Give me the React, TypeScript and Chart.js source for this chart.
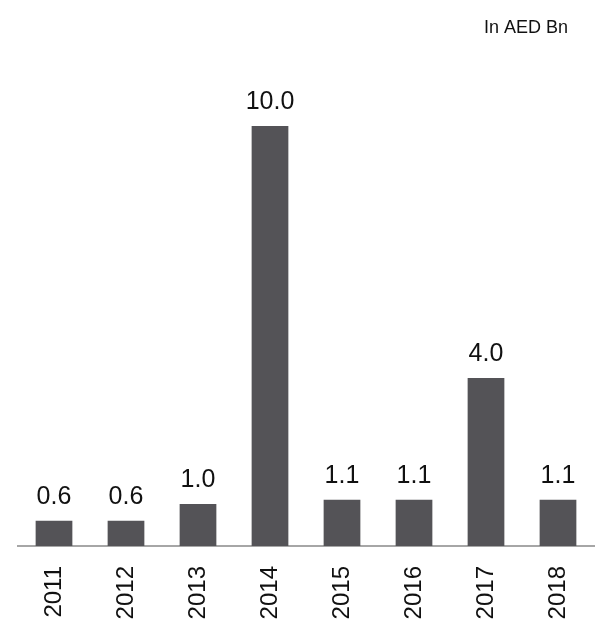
import React, { useEffect, useRef } from "react";
import { Chart, registerables } from "chart.js";

Chart.register(...registerables);

const years = ["2011", "2012", "2013", "2014", "2015", "2016", "2017", "2018"];
const values = [0.6, 0.6, 1.0, 10.0, 1.1, 1.1, 4.0, 1.1];
const unitLabel = "In AED Bn";

const FONT = "'Liberation Sans', Arial, sans-serif";

const labelPlugin = {
  id: "valueLabels",
  afterDatasetsDraw(chart: any) {
    const ctx = chart.ctx;
    const meta = chart.getDatasetMeta(0);
    ctx.save();
    ctx.font = `25px ${FONT}`;
    ctx.fillStyle = "#111111";
    ctx.textAlign = "center";
    ctx.textBaseline = "alphabetic";
    meta.data.forEach((bar: any, i: number) => {
      ctx.fillText(values[i].toFixed(1), bar.x, bar.y - 17);
    });
    ctx.font = `18px ${FONT}`;
    ctx.textAlign = "right";
    ctx.fillText(unitLabel, 568, 33);
    ctx.restore();
  },
};

export default function App() {
  const ref = useRef<HTMLCanvasElement>(null);
  useEffect(() => {
    const chart = new Chart(ref.current!, {
      type: "bar",
      data: {
        labels: years,
        datasets: [
          {
            data: values,
            backgroundColor: "#545357",
            categoryPercentage: 1,
            barPercentage: 0.51,
          },
        ],
      },
      options: {
        responsive: false,
        animation: false,
        layout: { padding: { left: 18, right: 17, top: 126, bottom: 0 } },
        plugins: { legend: { display: false }, tooltip: { enabled: false } },
        scales: {
          y: { display: false, min: 0, max: 10 },
          x: {
            grid: { display: false, drawTicks: false },
            border: { color: "#a6a6a6", width: 2 },
            afterFit: (scale: any) => {
              scale.height = 80;
            },
            ticks: {
              minRotation: 90,
              maxRotation: 90,
              padding: 20,
              color: "#111111",
              font: { family: FONT, size: 24 },
            },
          },
        },
      },
      plugins: [labelPlugin],
    });
    return () => chart.destroy();
  }, []);
  return (
    <div style={{ position: "fixed", left: 0, top: 0, width: 611, height: 626, background: "#fff" }}>
      <canvas ref={ref} width={611} height={626} />
    </div>
  );
}
